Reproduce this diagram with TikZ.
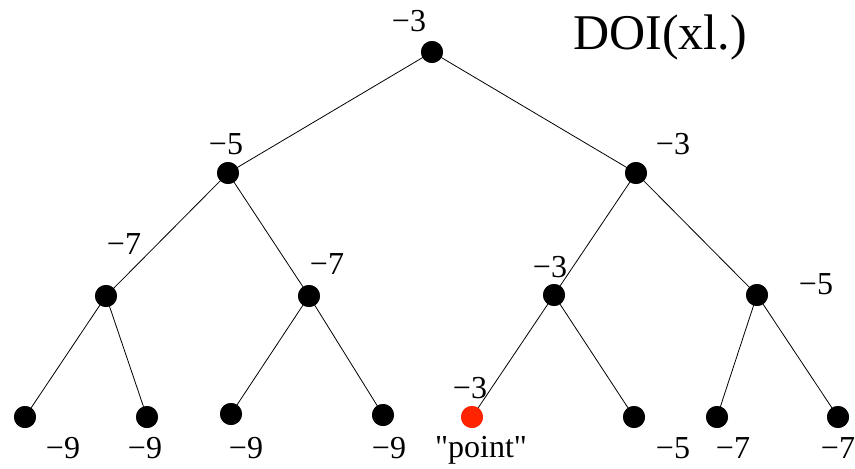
\documentclass[tikz,border=0pt]{standalone}
\usepackage{fontspec}
\setmainfont{Liberation Serif}
\newfontfamily\rawfont{Liberation Serif}[Ligatures=TeXOff]
\begin{document}
\begin{tikzpicture}[x=1pt,y=-1pt,
  dot/.style={circle,fill=black,inner sep=0pt,minimum size=22pt},
  reddot/.style={circle,fill=ptred,inner sep=0pt,minimum size=22pt},
  val/.style={inner sep=0pt,font=\fontsize{32}{36}\selectfont},
  edge/.style={draw=black,line width=0.8pt}]
\definecolor{ptred}{RGB}{255,36,0}
\useasboundingbox (0,0) rectangle (855,469);
% nodes
\node[dot] (r) at (432,52) {};
\node[dot] (a) at (228,173) {};
\node[dot] (b) at (636,173) {};
\node[dot] (aa) at (106,296) {};
\node[dot] (ab) at (309,296) {};
\node[dot] (ba) at (554,295) {};
\node[dot] (bb) at (757,295) {};
\node[dot] (l1) at (25,417) {};
\node[dot] (l2) at (147,417) {};
\node[dot] (l3) at (231,414) {};
\node[dot] (l4) at (383,415) {};
\node[reddot] (l5) at (472,417) {};
\node[dot] (l6) at (634,417) {};
\node[dot] (l7) at (717,417) {};
\node[dot] (l8) at (838,417) {};
% edges
\draw[edge] (r.center) -- (a.center);
\draw[edge] (r.center) -- (b.center);
\draw[edge] (a.center) -- (aa.center);
\draw[edge] (a.center) -- (ab.center);
\draw[edge] (b.center) -- (ba.center);
\draw[edge] (b.center) -- (bb.center);
\draw[edge] (aa.center) -- (l1.center);
\draw[edge] (aa.center) -- (l2.center);
\draw[edge] (ab.center) -- (l3.center);
\draw[edge] (ab.center) -- (l4.center);
\draw[edge] (ba.center) -- (l5.center);
\draw[edge] (ba.center) -- (l6.center);
\draw[edge] (bb.center) -- (l7.center);
\draw[edge] (bb.center) -- (l8.center);
% redraw dots above edges
\foreach \n in {r,a,b,aa,ab,ba,bb,l1,l2,l3,l4,l6,l7,l8} {\fill (\n) circle (11pt);}
\fill[ptred] (l5) circle (11pt);
% labels
\node[val] (tr) at (409,21) {−3};
\node[val,anchor=base west,font=\fontsize{50}{55}\selectfont] (title) at (573,49) {DOI(xl.)};
\node[val] (ta) at (226,144) {−5};
\node[val] (tb) at (673,144) {−3};
\node[val] (taa) at (124,244) {−7};
\node[val] (tab) at (327,264) {−7};
\node[val] (tba) at (550,267) {−3};
\node[val] (tbb) at (816,284) {−5};
\node[val] (t1) at (63,448) {−9};
\node[val] (t2) at (145,448) {−9};
\node[val] (t3) at (246,448) {−9};
\node[val] (t4) at (389,448) {−9};
\node[val] (t5) at (470,388) {−3};
\node[val,anchor=base] (tp) at (481,457) {\rawfont "point"};
\node[val] (t6) at (673,448) {−5};
\node[val] (t7) at (733,448) {−7};
\node[val] (t8) at (838,448) {−7};
\end{tikzpicture}
\end{document}
